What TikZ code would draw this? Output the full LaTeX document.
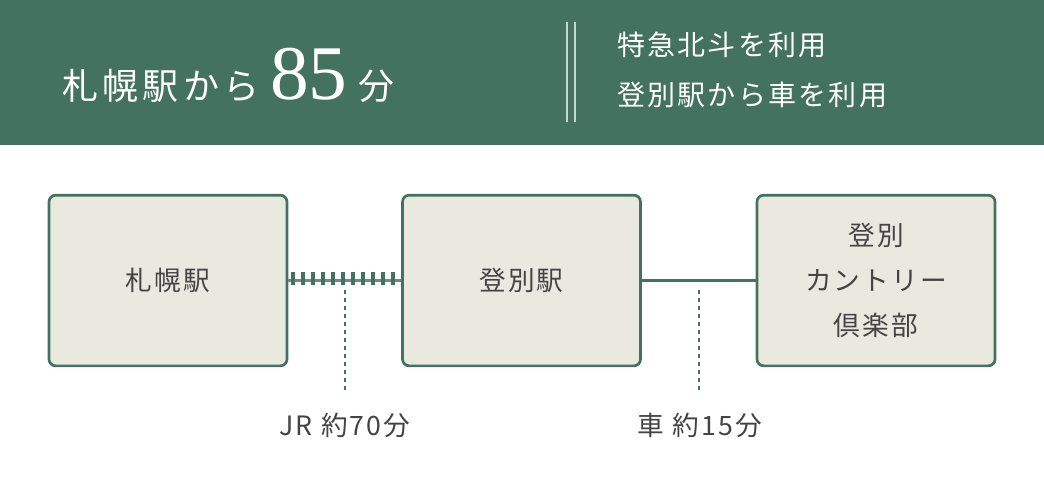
\documentclass[tikz,border=0pt]{standalone}
\usepackage{fontspec}
\setmainfont{Noto Sans CJK JP}
\newfontfamily\serifnum{Liberation Serif}
\definecolor{hdr}{HTML}{437261}
\definecolor{boxf}{HTML}{EAE9E0}
\definecolor{txt}{HTML}{444444}
\begin{document}
\begin{tikzpicture}[x=0.75pt,y=-0.75pt,
  stn/.style={draw=hdr,line width=2pt,fill=boxf,rounded corners=5pt,minimum width=178.5pt,minimum height=128pt,inner sep=0pt,text=txt,font=\fontsize{20pt}{34pt}\selectfont\addfontfeatures{LetterSpace=8},align=center},
  lbl/.style={text=txt,font=\fontsize{20pt}{22pt}\selectfont\addfontfeatures{LetterSpace=8},inner sep=0pt}]
\useasboundingbox (0,0) rectangle (1044,480);
\fill[hdr] (0,0) rectangle (1044,145);
\node[anchor=west,text=white,inner sep=0pt] (title) at (62,75) {\fontsize{27pt}{30pt}\selectfont\addfontfeatures{LetterSpace=12}札幌駅から\hspace{8pt}{\serifnum\fontsize{58pt}{60pt}\selectfont 85}\hspace{8pt}分};
\draw[white!70!hdr,line width=1pt] (567,22) -- (567,122) (575,22) -- (575,122);
\node[anchor=west,text=white,inner sep=0pt,font=\fontsize{21pt}{24pt}\selectfont\addfontfeatures{LetterSpace=8}] (r1) at (617,45) {特急北斗を利用};
\node[anchor=west,text=white,inner sep=0pt,font=\fontsize{21pt}{24pt}\selectfont\addfontfeatures{LetterSpace=8}] (r2) at (617,95) {登別駅から車を利用};
\node[stn] (a) at (168,280.5) {札幌駅};
\node[stn] (b) at (521.5,280.5) {登別駅};
\node[stn] (c) at (876,280.5) {登別\\カントリー\\倶楽部};
\draw[hdr!80!white,line width=2.5pt] (a.east) -- (b.west);
\foreach \i in {0,...,10} \draw[hdr,line width=3pt] (293+\i*10,272) -- (293+\i*10,285);
\draw[hdr,line width=2pt] (b.east) -- (c.west);
\coordinate (d1) at (345,392); \coordinate (d1t) at (345,290);
\coordinate (d2) at (699,392); \coordinate (d2t) at (699,290);
\draw[hdr,dashed,line width=1pt] (d1t) -- (d1);
\draw[hdr,dashed,line width=1pt] (d2t) -- (d2);
\node[lbl] (l1) at (345,425) {JR 約70分};
\node[lbl] (l2) at (700,425) {車 約15分};
\end{tikzpicture}
\end{document}
